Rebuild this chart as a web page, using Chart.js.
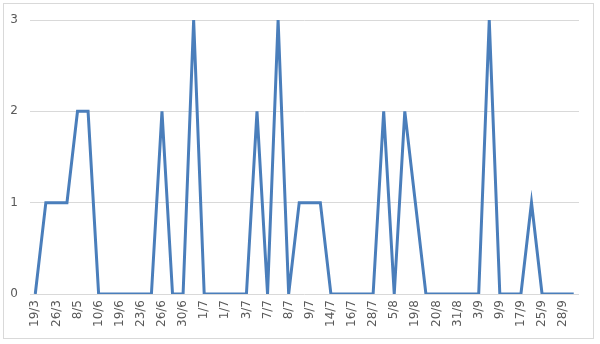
<!DOCTYPE html>
<html>
<head>
<meta charset="utf-8">
<script src="https://cdn.jsdelivr.net/npm/chart.js@4/dist/chart.umd.min.js"></script>
<style>
  html, body { margin: 0; padding: 0; background: #fff; }
  #wrap { position: relative; width: 600px; height: 344px; }
  #frame { position: absolute; left: 3px; top: 3px; width: 591px; height: 336px; border: 1px solid #d9d9d9; box-sizing: border-box; }
  canvas { position: absolute; left: 0; top: 0; }
</style>
</head>
<body>
<div id="wrap">
  <div id="frame"></div>
  <canvas id="chart" width="600" height="344"></canvas>
</div>
<script>
// dates (every other one is shown on the axis)
const dates = [
  '19/3', '22/3', '26/3', '2/5', '8/5', '1/6', '10/6', '14/6', '19/6', '21/6',
  '23/6', '25/6', '26/6', '28/6', '30/6', '30/6', '1/7', '1/7', '1/7', '2/7',
  '3/7', '5/7', '7/7', '7/7', '8/7', '8/7', '9/7', '12/7', '14/7', '15/7',
  '16/7', '21/7', '28/7', '1/8', '5/8', '12/8', '19/8', '19/8', '20/8', '25/8',
  '31/8', '2/9', '3/9', '5/9', '9/9', '13/9', '17/9', '20/9', '25/9', '26/9',
  '28/9', '30/9'
];

const counts = [
  0, 1, 1, 1, 2, 2, 0, 0, 0, 0,
  0, 0, 2, 0, 0, 3, 0, 0, 0, 0,
  0, 2, 0, 3, 0, 1, 1, 1, 0, 0,
  0, 0, 0, 2, 0, 2, 1, 0, 0, 0,
  0, 0, 0, 3, 0, 0, 0, 1, 0, 0,
  0, 0
];

const yTicks = [0, 1, 2, 3];

const textColor = '#595959';
const gridColor = '#d9d9d9';
const font = { family: 'DejaVu Sans, Arial, sans-serif', size: 12 };

new Chart(document.getElementById('chart'), {
  type: 'line',
  data: {
    labels: dates,
    datasets: [{
      data: counts,
      borderColor: '#4a7ebb',
      borderWidth: 3,
      tension: 0,
      pointRadius: 0,
      fill: false
    }]
  },
  options: {
    responsive: false,
    animation: false,
    layout: { padding: { top: 20, right: 21, left: 0, bottom: 0 } },
    plugins: {
      legend: { display: false },
      tooltip: { enabled: false }
    },
    scales: {
      x: {
        offset: true,
        grid: { display: false, drawTicks: false },
        border: { display: false },
        ticks: {
          autoSkip: false,
          minRotation: 90,
          maxRotation: 90,
          padding: 6,
          color: textColor,
          font: font,
          callback: (v, i) => (i % 2 === 0 ? dates[i] : '')
        },
        afterFit: (s) => { s.height = 50; }
      },
      y: {
        min: 0,
        max: 3,
        afterBuildTicks: (s) => { s.ticks = yTicks.map(v => ({ value: v })); },
        grid: { color: gridColor, lineWidth: 1, drawTicks: false },
        border: { display: false },
        ticks: {
          padding: 12,
          color: textColor,
          font: font
        },
        afterFit: (s) => { s.width = 30; }
      }
    }
  }
});
</script>
</body>
</html>
